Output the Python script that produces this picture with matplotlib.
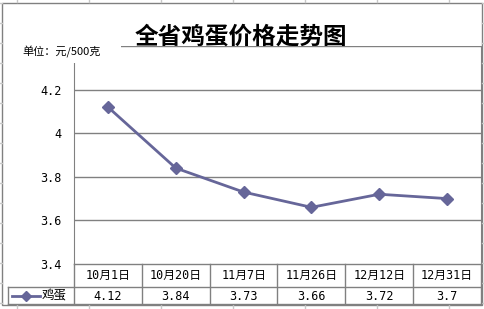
import matplotlib
matplotlib.use("Agg")
import matplotlib.pyplot as plt
from matplotlib.patches import Rectangle
from matplotlib.lines import Line2D

plt.rcParams['font.family'] = ['Noto Sans CJK SC', 'DejaVu Sans']
mono = ['DejaVu Sans Mono', 'Noto Sans CJK SC']

# data
dates = ["10月1日", "10月20日", "11月7日", "11月26日", "12月12日", "12月31日"]
prices = [4.12, 3.84, 3.73, 3.66, 3.72, 3.7]
price_labels = ["4.12", "3.84", "3.73", "3.66", "3.72", "3.7"]
series_name = "鸡蛋"
yticks = [3.4, 3.6, 3.8, 4.0, 4.2]
ytick_labels = ["3.4", "3.6", "3.8", "4", "4.2"]
title = "全省鸡蛋价格走势图"
unit = "单位：元/500克"

W, H = 485, 309
grey = '#808080'
line_col = '#666699'

fig = plt.figure(figsize=(W / 100, H / 100), dpi=100)
fig.patch.set_facecolor('white')

# plot area in pixels
px0, px1, py_top, py_bot = 74, 481, 46, 264
ax = fig.add_axes([px0 / W, 1 - py_bot / H, (px1 - px0) / W, (py_bot - py_top) / H])
ax.set_xlim(-0.5, len(dates) - 0.5)
ax.set_ylim(3.4, 4.4)
for y in yticks[1:] + [4.4]:
    ax.axhline(y, color=grey, lw=1, zorder=1)
ax.plot(range(len(dates)), prices, color=line_col, lw=2, marker='D', ms=6,
        mfc=line_col, mec=line_col, zorder=3)
ax.set_xticks([])
ax.set_yticks(yticks)
ax.set_yticklabels(ytick_labels, fontsize=8.5, family=mono)
ax.tick_params(axis='y', length=0, pad=9)
for s in ['top', 'bottom']:
    ax.spines[s].set_visible(False)
ax.spines['left'].set_color(grey)
ax.spines['right'].set_color(grey)
ax.patch.set_visible(False)

# overlay in pixel coords for frame, table, labels
ov = fig.add_axes([0, 0, 1, 1], zorder=5)
ov.set_xlim(0, W)
ov.set_ylim(H, 0)
ov.axis('off')
ov.patch.set_visible(False)

def seg(x0, y0, x1, y1, c=grey, lw=1):
    ov.add_line(Line2D([x0, x1], [y0, y1], color=c, lw=lw))

# sheet grid lines peeking out around the chart
for gx in range(17, W, 72):
    seg(gx, 0, gx, 2, '#c8c8c8')
    seg(gx, 305, gx, H, '#c8c8c8')
for gy in range(3, H, 20):
    seg(0, gy, 2, gy, '#c8c8c8')
    seg(482, gy, W, gy, '#c8c8c8')

# cover for unit label
ov.add_patch(Rectangle((3, 30), 118, 33, facecolor='white', edgecolor='none'))
ov.text(22, 52, unit, fontsize=8, va='center', ha='left')
ov.text(241, 37, title, fontsize=17, fontweight='bold', ha='center', va='center')

# data table
n = len(dates)
cw = (px1 - px0) / n
seg(px0, py_bot, px1, py_bot)
seg(8, 287, px1, 287)
seg(8, 304, px1, 304)
seg(8, 287, 8, 304)
for i in range(n + 1):
    x = px0 + i * cw
    seg(x, py_bot, x, 304)
for i, (d, v) in enumerate(zip(dates, price_labels)):
    cx = px0 + (i + 0.5) * cw
    ov.text(cx, 275.5, d, fontsize=8.5, ha='center', va='center', family=mono)
    ov.text(cx, 296, v, fontsize=8.5, ha='center', va='center', family=mono)
ov.add_line(Line2D([12, 40], [296, 296], color=line_col, lw=2))
ov.add_line(Line2D([26], [296], color=line_col, marker='D', ms=5, lw=0))
ov.text(42, 296, series_name, fontsize=9, ha='left', va='center')

# chart border
ov.add_patch(Rectangle((2.5, 2.5), 479.5, 302, facecolor='none', edgecolor=grey, lw=1))

fig.savefig("out.png", dpi=100)
